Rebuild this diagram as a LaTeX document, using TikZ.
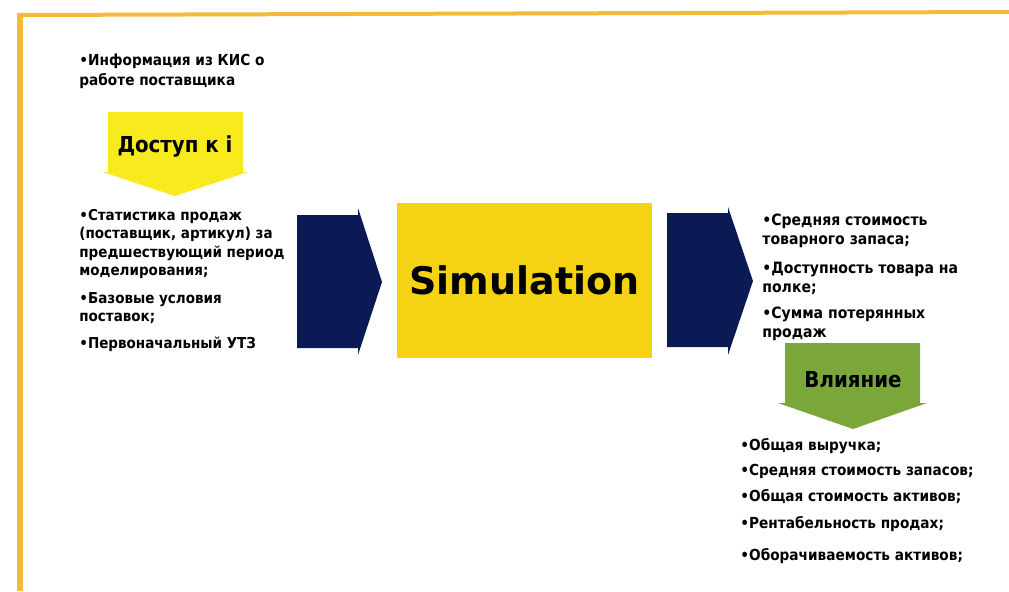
\documentclass[tikz,border=0pt]{standalone}
\usepackage{fontspec}
\setmainfont{DejaVu Sans Condensed}
\newfontfamily\widesans{DejaVu Sans}
\usetikzlibrary{positioning,calc}

\definecolor{frameorange}{HTML}{F2BC3A}
\definecolor{lemon}{HTML}{F7EB1E}
\definecolor{gold}{HTML}{F6D215}
\definecolor{navy}{HTML}{0B1A55}
\definecolor{leaf}{HTML}{7BA73A}

\tikzset{
  txt/.style={anchor=north west, align=left, inner sep=0pt,
              font=\bfseries\fontsize{7.5}{9.2}\selectfont},
  lst/.style={anchor=west, inner sep=0pt,
              font=\bfseries\fontsize{7.6}{9}\selectfont},
}

\begin{document}
\begin{tikzpicture}[x=0.5pt,y=-0.5pt]
  \useasboundingbox (0,0) rectangle (1009,591);
  % frame
  \fill[frameorange] (17,13) -- (1009,10) -- (1009,14) -- (17,17) -- cycle;
  \fill[frameorange] (17,13) rectangle (23,591);

  % input side
  \node[txt, font=\bfseries\fontsize{7.6}{9.8}\selectfont] (info) at (79,54) {•Информация из КИС о\\работе поставщика};
  \fill[lemon] (108,112) -- (243,112) -- (243,172) -- (248,172)
               -- (175,196) -- (103,172) -- (108,172) -- cycle;
  \node[font=\bfseries\fontsize{11}{13}\selectfont] (access) at (175,147) {Доступ к i};

  \node[txt] (stat) at (79,209) {•Статистика продаж\\(поставщик, артикул) за\\предшествующий период\\моделирования;};
  \node[txt] (base) at (79,292) {•Базовые условия\\поставок;};
  \node[txt] (utz) at (79,337) {•Первоначальный УТЗ};

  \fill[navy] (297,215) -- (358,215) -- (358,208) -- (382,282)
              -- (358,355) -- (358,348) -- (297,348) -- cycle;

  % model
  \node[fill=gold, minimum width=127.5pt, minimum height=77.5pt,
        font=\widesans\bfseries\fontsize{19}{21}\selectfont] (sim) at (524.5,280.5) {Simulation};

  \fill[navy] (667,213) -- (728,213) -- (728,207) -- (753,281)
              -- (728,355) -- (728,347) -- (667,347) -- cycle;

  % output side
  \node[txt, font=\bfseries\fontsize{7.8}{9.2}\selectfont] (stock) at (762,214) {•Средняя стоимость\\товарного запаса;};
  \node[txt, font=\bfseries\fontsize{7.8}{9.2}\selectfont] (avail) at (762,262) {•Доступность товара на\\полке;};
  \node[txt, font=\bfseries\fontsize{7.8}{9.2}\selectfont] (lost) at (762,307) {•Сумма потерянных\\продаж};

  \fill[leaf] (785,343) -- (920,343) -- (920,403) -- (927,403)
              -- (853,429) -- (778,403) -- (785,403) -- cycle;
  \node[font=\bfseries\fontsize{11}{13}\selectfont] (impact) at (853,380) {Влияние};

  \node[lst] (rev) at (740,446) {•Общая выручка;};
  \node[lst] (avgst) at (740,471) {•Средняя стоимость запасов;};
  \node[lst] (assets) at (740,497) {•Общая стоимость активов;};
  \node[lst] (profit) at (740,524) {•Рентабельность продах;};
  \node[lst] (turn) at (740,556) {•Оборачиваемость активов;};
\end{tikzpicture}
\end{document}
